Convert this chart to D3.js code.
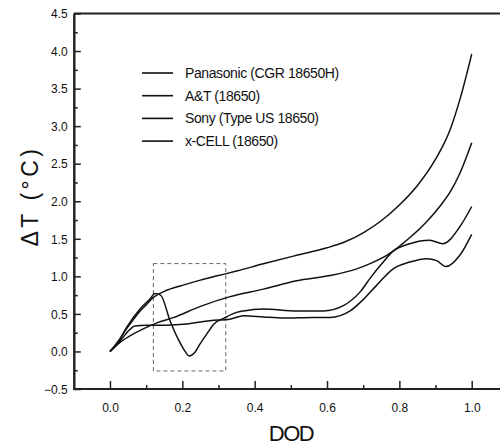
<!DOCTYPE html>
<html>
<head>
<meta charset="utf-8">
<script src="https://cdn.jsdelivr.net/npm/d3@7"></script>
<style>
  body { margin: 0; background: #fff; }
  svg { display: block; }
</style>
</head>
<body>
<div id="chart"></div>
<script>

// series names, top to bottom in the legend
var seriesNames = ["Panasonic (CGR 18650H)", "A&T (18650)", "Sony (Type US 18650)", "x-CELL (18650)"];

// DOD values and delta T readings for each series
var panasonicDod = [0, 0.02, 0.05, 0.08, 0.1, 0.12, 0.15, 0.2, 0.25, 0.3, 0.35, 0.424, 0.516, 0.6, 0.65, 0.7, 0.75, 0.8, 0.85, 0.9, 0.94, 0.97, 1.0];
var panasonicDT  = [0, 0.12, 0.33, 0.52, 0.62, 0.72, 0.80, 0.88, 0.95, 1.01, 1.07, 1.167, 1.28, 1.38, 1.46, 1.58, 1.74, 1.95, 2.21, 2.56, 2.95, 3.40, 3.96];

var atDod = [0, 0.028, 0.06, 0.092, 0.13, 0.175, 0.25, 0.332, 0.424, 0.516, 0.608, 0.682, 0.719, 0.765, 0.83, 0.87, 0.91, 0.94, 0.967, 1.0];
var atDT  = [0, 0.12, 0.22, 0.30, 0.38, 0.45, 0.60, 0.73, 0.83, 0.94, 1.01, 1.10, 1.17, 1.28, 1.52, 1.70, 1.92, 2.12, 2.37, 2.78];

var sonyDod = [0, 0.02, 0.046, 0.083, 0.111, 0.124, 0.14, 0.166, 0.19, 0.205, 0.219, 0.235, 0.249, 0.27, 0.286, 0.318, 0.35, 0.369, 0.424, 0.516, 0.59, 0.645, 0.691, 0.72, 0.75, 0.783, 0.829, 0.884, 0.92, 0.967, 1.0];
var sonyDT  = [0, 0.10, 0.32, 0.565, 0.70, 0.77, 0.75, 0.41, 0.15, 0.02, -0.06, -0.01, 0.10, 0.25, 0.36, 0.45, 0.52, 0.54, 0.565, 0.54, 0.54, 0.61, 0.79, 0.98, 1.16, 1.335, 1.435, 1.48, 1.435, 1.66, 1.93];

var xcellDod = [0, 0.03, 0.05, 0.069, 0.1, 0.157, 0.212, 0.276, 0.332, 0.369, 0.424, 0.479, 0.562, 0.608, 0.664, 0.7, 0.737, 0.783, 0.829, 0.876, 0.903, 0.929, 0.967, 1.0];
var xcellDT  = [0, 0.15, 0.27, 0.34, 0.35, 0.35, 0.365, 0.41, 0.43, 0.476, 0.46, 0.445, 0.453, 0.453, 0.54, 0.69, 0.88, 1.10, 1.19, 1.235, 1.21, 1.13, 1.28, 1.56];

// dashed box: DOD range and delta T range
var boxDod = [0.12, 0.32];
var boxDT = [-0.26, 1.17];

// axis ticks
var xMajor = [0, 0.2, 0.4, 0.6, 0.8, 1.0];
var xMinor = [0.1, 0.3, 0.5, 0.7, 0.9];
var yMajor = [-0.5, 0, 0.5, 1.0, 1.5, 2.0, 2.5, 3.0, 3.5, 4.0, 4.5];
var yMinor = [-0.25, 0.25, 0.75, 1.25, 1.75, 2.25, 2.75, 3.25, 3.75, 4.25];

var width = 500, height = 448;
var fontFam = "'Liberation Sans', Arial, Helvetica, sans-serif";

var svg = d3.select("#chart").append("svg")
    .attr("width", width)
    .attr("height", height);

var x = d3.scaleLinear().domain([-0.1, 1.1]).range([73.8, 507.9]);
var y = d3.scaleLinear().domain([-0.5, 4.5]).range([389, 13.5]);

function series(dod, dt) {
    return dod.map(function (d, i) { return [d, dt[i]]; });
}
var allSeries = [
    series(panasonicDod, panasonicDT),
    series(atDod, atDT),
    series(sonyDod, sonyDT),
    series(xcellDod, xcellDT)
];

// top frame line
svg.append("line")
    .attr("x1", x(-0.1)).attr("x2", width)
    .attr("y1", y(4.5)).attr("y2", y(4.5))
    .style("stroke", "#222")
    .style("stroke-width", 2);

// minor ticks
var xMinorAxis = svg.append("g")
    .attr("transform", "translate(0," + y(-0.5) + ")")
    .call(d3.axisBottom(x).tickValues(xMinor).tickSize(-4).tickSizeOuter(0).tickFormat(""));
var yMinorAxis = svg.append("g")
    .attr("transform", "translate(" + x(-0.1) + ",0)")
    .call(d3.axisLeft(y).tickValues(yMinor).tickSize(-4).tickSizeOuter(0).tickFormat(""));

// major ticks with labels
var xAxis = svg.append("g")
    .attr("transform", "translate(0," + y(-0.5) + ")")
    .call(d3.axisBottom(x).tickValues(xMajor).tickSize(-8).tickSizeOuter(0)
        .tickPadding(14).tickFormat(d3.format(".1f")));
var yAxis = svg.append("g")
    .attr("transform", "translate(" + x(-0.1) + ",0)")
    .call(d3.axisLeft(y).tickValues(yMajor).tickSize(-7).tickSizeOuter(0)
        .tickPadding(6).tickFormat(d3.format(".1f")));

[xMinorAxis, yMinorAxis, xAxis, yAxis].forEach(function (g) {
    g.selectAll("path.domain").style("stroke", "#222").style("stroke-width", 2);
    g.selectAll(".tick line").style("stroke", "#222").style("stroke-width", 1.5);
    g.selectAll("text")
        .style("font-family", fontFam)
        .style("font-size", "12px")
        .style("fill", "#111");
});
xMinorAxis.select("path.domain").attr("d", "M" + x(-0.1) + ",0H" + width);
xAxis.select("path.domain").attr("d", "M" + x(-0.1) + ",0H" + width);
yAxis.selectAll(".tick text").attr("dy", "0.35em");

// dashed box
svg.append("rect")
    .attr("x", x(boxDod[0]))
    .attr("y", y(boxDT[1]))
    .attr("width", x(boxDod[1]) - x(boxDod[0]))
    .attr("height", y(boxDT[0]) - y(boxDT[1]))
    .style("fill", "none")
    .style("stroke", "#666")
    .style("stroke-width", 1)
    .style("stroke-dasharray", "4,3");

// curves
var line = d3.line()
    .x(function (d) { return x(d[0]); })
    .y(function (d) { return y(d[1]); })
    .curve(d3.curveMonotoneX);

svg.append("g")
    .selectAll("path")
    .data(allSeries)
    .join("path")
    .attr("d", line)
    .style("fill", "none")
    .style("stroke", "#111")
    .style("stroke-width", 1.5)
    .style("stroke-linejoin", "round");

// legend
var legend = svg.append("g")
    .selectAll("g")
    .data(seriesNames)
    .join("g")
    .attr("transform", function (d, i) { return "translate(142," + (73 + i * 22.7) + ")"; });

legend.append("line")
    .attr("x1", 0).attr("x2", 31)
    .style("stroke", "#111")
    .style("stroke-width", 1.6);

legend.append("text")
    .attr("x", 43)
    .attr("dy", "0.35em")
    .style("font-family", fontFam)
    .style("font-size", "14px")
    .style("letter-spacing", "-0.4px")
    .style("fill", "#111")
    .text(function (d) { return d; });

// axis titles
svg.append("text")
    .attr("x", 291)
    .attr("y", 441)
    .style("font-family", fontFam)
    .style("font-size", "22px")
    .style("letter-spacing", "-1.5px")
    .style("text-anchor", "middle")
    .style("fill", "#111")
    .text("DOD");

svg.append("text")
    .attr("transform", "translate(38," + 196 + ") rotate(-90)")
    .style("font-family", fontFam)
    .style("font-size", "23px")
    .style("letter-spacing", "3.5px")
    .style("text-anchor", "middle")
    .style("fill", "#111")
    .text("\u0394T (\u00B0C)");

</script>
</body>
</html>
